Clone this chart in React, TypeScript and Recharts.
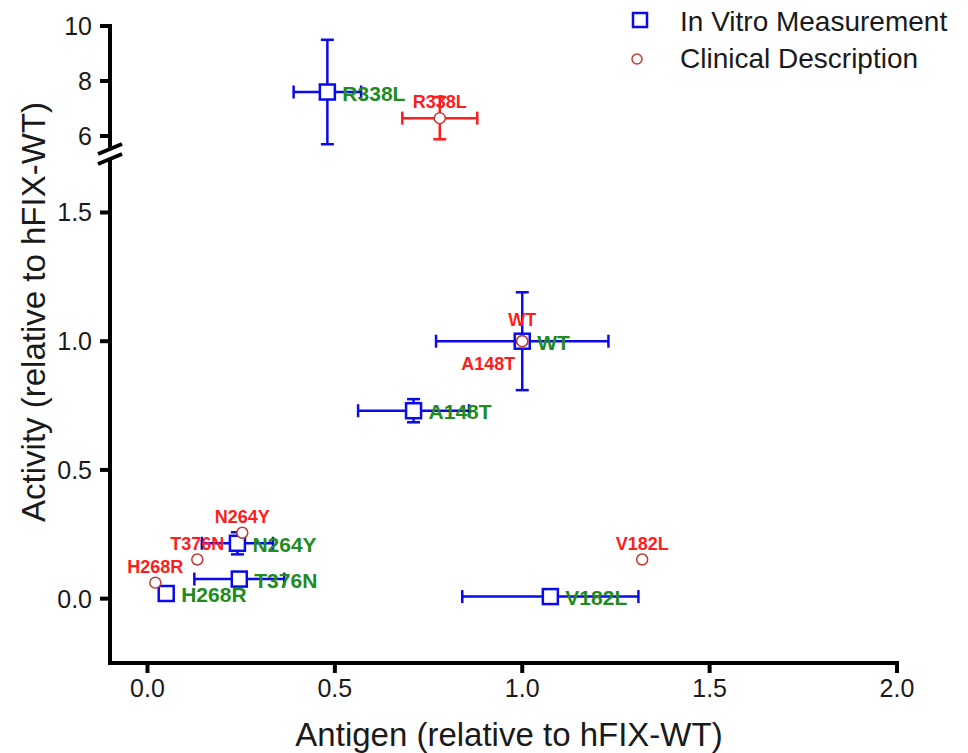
import { ErrorBar, Scatter, ScatterChart, XAxis, YAxis } from "recharts";

// FIX variants: in vitro measurements vs. clinical description
const mutants = ["WT", "R338L", "A148T", "N264Y", "T376N", "H268R", "V182L"];

const vitroAntigen = [1.0, 0.48, 0.71, 0.24, 0.245, 0.05, 1.075];
const vitroAntigenErr = [0.23, 0.09, 0.148, 0.095, 0.12, 0.013, 0.235];
const vitroActivity = [1.0, 7.6, 0.73, 0.215, 0.076, 0.02, 0.008];
const vitroActivityErr = [0.19, 1.9, 0.045, 0.043, 0.012, 0.012, 0.012];

const clinicalAntigen = [1.0, 0.78, 1.0, 0.253, 0.133, 0.021, 1.32];
const clinicalAntigenErr = [null, 0.1, null, null, null, null, null];
const clinicalActivity = [1.0, 6.65, 1.0, 0.256, 0.152, 0.062, 0.152];
const clinicalActivityErr = [null, 0.77, null, null, null, null, null];

const xTicks = [0, 0.5, 1, 1.5, 2];
const lowerTicks = [0, 0.5, 1, 1.5];
const upperTicks = [6, 8, 10];

const xDomain = [-0.1, 2];
const lowerDomain = [-0.25, 1.7];
const upperDomain = [5.6, 10];
const BREAK_AT = 3;

const BLUE = "#0a0aeb";
const GREEN = "#1e8c1e";
const RED = "#ff1c1c";
const DARK_RED = "#c23a32";
const TEXT = "#1a1a1a";
const FONT = "Liberation Sans, Arial, sans-serif";

// layout
const W = 968;
const H = 753;
const PLOT_LEFT = 110;
const PLOT_RIGHT = 897;
const UPPER_TOP = 26;
const UPPER_BOTTOM = 147;
const LOWER_TOP = 161;
const LOWER_BOTTOM = 663;
const UPPER_H = 175;
const CAP = 6.5; // recharts draws caps +-width

const vitro = mutants.map((name, i) => ({
  name,
  x: vitroAntigen[i],
  y: vitroActivity[i],
  ex: vitroAntigenErr[i],
  ey: vitroActivityErr[i],
}));

const clinical = mutants.map((name, i) => ({
  name,
  x: clinicalAntigen[i],
  y: clinicalActivity[i],
  ex: clinicalAntigenErr[i],
  ey: clinicalActivityErr[i],
}));

const clinicalLabelOffset: Record<string, [number, number]> = {
  WT: [0, -21],
  A148T: [-34, 23],
};

const VitroShape = (props: any) => {
  const { cx, cy, payload } = props;
  return (
    <g>
      <rect x={cx - 7.5} y={cy - 7.5} width={15} height={15} fill="#fff" stroke={BLUE} strokeWidth={2.5} />
      <text
        x={cx + 15}
        y={cy + 1}
        dominantBaseline="central"
        fill={GREEN}
        fontSize={21}
        fontWeight="bold"
        fontFamily={FONT}
      >
        {payload.name}
      </text>
    </g>
  );
};

const ClinicalShape = (props: any) => {
  const { cx, cy, payload } = props;
  const [dx, dy] = clinicalLabelOffset[payload.name] ?? [0, -16];
  return (
    <g>
      <circle cx={cx} cy={cy} r={5.5} fill="#fff" stroke={DARK_RED} strokeWidth={1.5} />
      <text
        x={cx + dx}
        y={cy + dy}
        textAnchor="middle"
        dominantBaseline="central"
        fill={RED}
        fontSize={18}
        fontWeight="bold"
        fontFamily={FONT}
      >
        {payload.name}
      </text>
    </g>
  );
};

const axisLine = { stroke: "#000", strokeWidth: 4, strokeLinecap: "square" as const };
const tickLine = { stroke: "#000", strokeWidth: 4 };
const tickStyle = { fill: TEXT, fontSize: 25, fontFamily: FONT };

export default function App() {
  const upperVitro = vitro.filter((d) => d.y > BREAK_AT);
  const lowerVitro = vitro.filter((d) => d.y <= BREAK_AT);
  const upperClinical = clinical.filter((d) => d.y > BREAK_AT);
  const lowerClinical = clinical.filter((d) => d.y <= BREAK_AT);

  return (
    <div style={{ position: "absolute", left: 0, top: 0, width: W, height: H, background: "#fff" }}>
      {/* lower segment with x axis */}
      <div style={{ position: "absolute", left: 0, top: 0 }}>
        <ScatterChart
          width={W}
          height={H}
          margin={{ top: LOWER_TOP, right: W - PLOT_RIGHT, bottom: 0, left: 0 }}
        >
          <XAxis
            type="number"
            dataKey="x"
            domain={xDomain}
            ticks={xTicks}
            tickFormatter={(v: number) => v.toFixed(1)}
            height={H - LOWER_BOTTOM}
            axisLine={axisLine}
            tickLine={tickLine}
            tickSize={10}
            tickMargin={6}
            tick={tickStyle}
          />
          <YAxis
            type="number"
            dataKey="y"
            domain={lowerDomain}
            ticks={lowerTicks}
            tickFormatter={(v: number) => v.toFixed(1)}
            width={PLOT_LEFT}
            axisLine={axisLine}
            tickLine={tickLine}
            tickSize={10}
            tickMargin={8}
            tick={tickStyle}
          />
          <Scatter data={lowerVitro} shape={VitroShape} isAnimationActive={false}>
            <ErrorBar dataKey="ex" direction="x" width={CAP} stroke={BLUE} strokeWidth={2.5} />
            <ErrorBar dataKey="ey" direction="y" width={CAP} stroke={BLUE} strokeWidth={2.5} />
          </Scatter>
          <Scatter data={lowerClinical} shape={ClinicalShape} isAnimationActive={false} />
        </ScatterChart>
      </div>

      {/* upper segment */}
      <div style={{ position: "absolute", left: 0, top: 0 }}>
        <ScatterChart
          width={W}
          height={UPPER_H}
          margin={{ top: UPPER_TOP, right: W - PLOT_RIGHT, bottom: UPPER_H - UPPER_BOTTOM, left: 0 }}
        >
          <XAxis type="number" dataKey="x" domain={xDomain} hide />
          <YAxis
            type="number"
            dataKey="y"
            domain={upperDomain}
            ticks={upperTicks}
            width={PLOT_LEFT}
            axisLine={axisLine}
            tickLine={tickLine}
            tickSize={10}
            tickMargin={8}
            tick={tickStyle}
          />
          <Scatter data={upperVitro} shape={VitroShape} isAnimationActive={false}>
            <ErrorBar dataKey="ex" direction="x" width={CAP} stroke={BLUE} strokeWidth={2.5} />
            <ErrorBar dataKey="ey" direction="y" width={CAP} stroke={BLUE} strokeWidth={2.5} />
          </Scatter>
          <Scatter data={upperClinical} shape={ClinicalShape} isAnimationActive={false}>
            <ErrorBar dataKey="ex" direction="x" width={CAP} stroke={RED} strokeWidth={2.5} />
            <ErrorBar dataKey="ey" direction="y" width={CAP} stroke={RED} strokeWidth={2.5} />
          </Scatter>
        </ScatterChart>
      </div>

      {/* axis break, axis titles, legend */}
      <svg
        width={W}
        height={H}
        style={{ position: "absolute", left: 0, top: 0, pointerEvents: "none" }}
      >
        <line x1={PLOT_LEFT - 12} y1={UPPER_BOTTOM + 7} x2={PLOT_LEFT + 12} y2={UPPER_BOTTOM - 3} stroke="#000" strokeWidth={4} />
        <line x1={PLOT_LEFT - 12} y1={LOWER_TOP + 3} x2={PLOT_LEFT + 12} y2={LOWER_TOP - 7} stroke="#000" strokeWidth={4} />
        <text
          transform="translate(33, 312) rotate(-90)"
          textAnchor="middle"
          dominantBaseline="central"
          fill={TEXT}
          fontSize={33}
          fontFamily={FONT}
        >
          Activity (relative to hFIX-WT)
        </text>
        <text x={509} y={746} textAnchor="middle" fill={TEXT} fontSize={33} fontFamily={FONT}>
          Antigen (relative to hFIX-WT)
        </text>

        <rect x={633} y={13} width={14} height={14} fill="#fff" stroke={BLUE} strokeWidth={2.5} />
        <text x={680} y={21} dominantBaseline="central" fill={TEXT} fontSize={28} fontFamily={FONT}>
          In Vitro Measurement
        </text>
        <circle cx={637} cy={59} r={5} fill="#fff" stroke={DARK_RED} strokeWidth={1.5} />
        <text x={680} y={58} dominantBaseline="central" fill={TEXT} fontSize={28} fontFamily={FONT}>
          Clinical Description
        </text>
      </svg>
    </div>
  );
}
